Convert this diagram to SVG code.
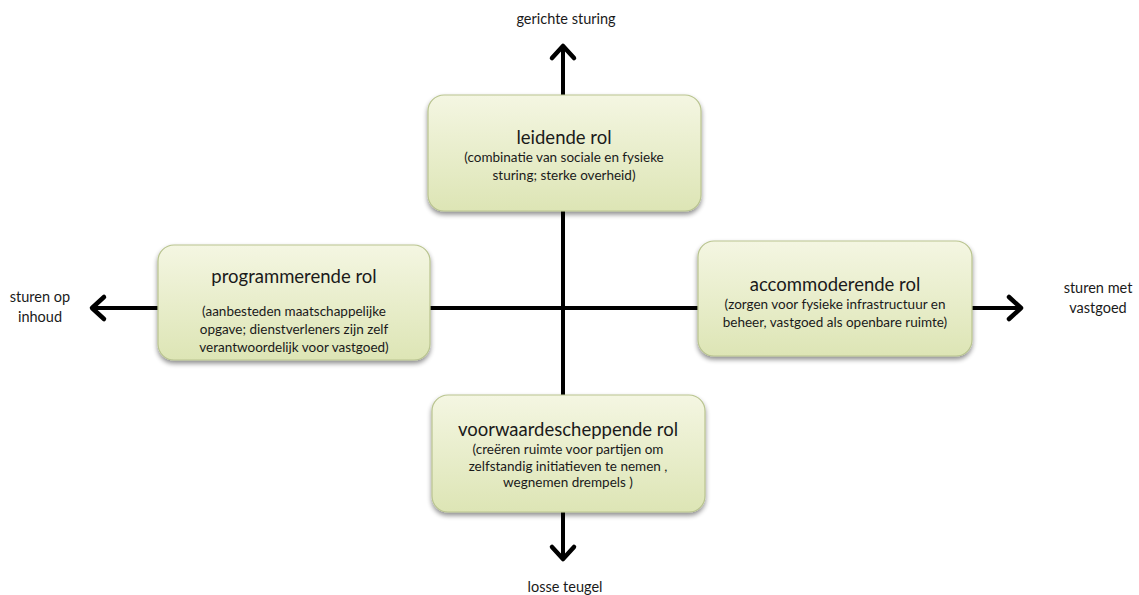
<svg xmlns="http://www.w3.org/2000/svg" width="1139" height="595" viewBox="0 0 1139 595">
  <style>
    .box { fill: url(#boxFill); stroke: #b9c48f; stroke-width: 1.2; filter: url(#shadow); }
    .title { font-family: "Lato", "Liberation Sans", sans-serif; font-size: 18.5px; fill: #1a1a1a; text-anchor: middle; }
    .sub { font-family: "Lato", "Liberation Sans", sans-serif; font-size: 13.5px; fill: #1a1a1a; text-anchor: middle; }
    .axis-label { font-family: "Lato", "Liberation Sans", sans-serif; font-size: 14.5px; fill: #1a1a1a; text-anchor: middle; }
    .axis { stroke: #000; stroke-width: 4; fill: none; }
    .head { stroke: #000; stroke-width: 4.5; fill: none; stroke-linecap: round; stroke-linejoin: round; }
  </style>
  <defs>
    <linearGradient id="boxFill" x1="0" y1="0" x2="0" y2="1">
      <stop offset="0" stop-color="#f4f6e2"/>
      <stop offset="1" stop-color="#dde5b5"/>
    </linearGradient>
    <filter id="shadow" x="-10%" y="-10%" width="120%" height="130%">
      <feGaussianBlur in="SourceAlpha" stdDeviation="2.5"/>
      <feOffset dx="0" dy="3" result="b"/>
      <feComponentTransfer><feFuncA type="linear" slope="0.45"/></feComponentTransfer>
      <feMerge><feMergeNode/><feMergeNode in="SourceGraphic"/></feMerge>
    </filter>
  </defs>

  <rect width="1139" height="595" fill="#ffffff"/>

  <!-- axes with open arrowheads -->
  <g id="connectors">
    <line class="axis" x1="563" y1="47" x2="563" y2="558"/>
    <line class="axis" x1="93" y1="308" x2="1020" y2="308"/>
    <polyline class="head" points="552,58 563,46 574,58"/>
    <polyline class="head" points="552,547 563,559 574,547"/>
    <polyline class="head" points="104,297 92,308 104,319"/>
    <polyline class="head" points="1009,297 1021,308 1009,319"/>
  </g>

  <g id="label-top"><text class="axis-label" x="566" y="24">gerichte sturing</text></g>
  <g id="label-bottom"><text class="axis-label" x="565" y="592">losse teugel</text></g>
  <g id="label-left">
    <text class="axis-label" x="40" y="302">sturen op</text>
    <text class="axis-label" x="40" y="322">inhoud</text>
  </g>
  <g id="label-right">
    <text class="axis-label" x="1098" y="293">sturen met</text>
    <text class="axis-label" x="1098" y="313">vastgoed</text>
  </g>

  <g id="node-leidend">
    <rect class="box" x="428" y="95" width="273" height="116" rx="16"/>
    <text class="title" x="564" y="144">leidende rol</text>
    <text class="sub" x="564" y="162">(combinatie van sociale en fysieke</text>
    <text class="sub" x="564" y="180">sturing; sterke overheid)</text>
  </g>

  <g id="node-programmerend">
    <rect class="box" x="158" y="245" width="272" height="115" rx="16"/>
    <text class="title" x="294" y="283">programmerende rol</text>
    <text class="sub" x="294" y="316">(aanbesteden maatschappelijke</text>
    <text class="sub" x="294" y="334">opgave; dienstverleners zijn zelf</text>
    <text class="sub" x="294" y="352">verantwoordelijk voor vastgoed)</text>
  </g>

  <g id="node-accommoderend">
    <rect class="box" x="698" y="241" width="274" height="115" rx="16"/>
    <text class="title" x="835" y="291">accommoderende rol</text>
    <text class="sub" x="835" y="309">(zorgen voor fysieke infrastructuur en</text>
    <text class="sub" x="835" y="327">beheer, vastgoed als openbare ruimte)</text>
  </g>

  <g id="node-voorwaardescheppend">
    <rect class="box" x="432" y="395" width="273" height="117" rx="16"/>
    <text class="title" x="568" y="436">voorwaardescheppende rol</text>
    <text class="sub" x="568" y="454">(creëren ruimte voor partijen om</text>
    <text class="sub" x="568" y="471">zelfstandig initiatieven te nemen ,</text>
    <text class="sub" x="568" y="487">wegnemen drempels )</text>
  </g>
</svg>
